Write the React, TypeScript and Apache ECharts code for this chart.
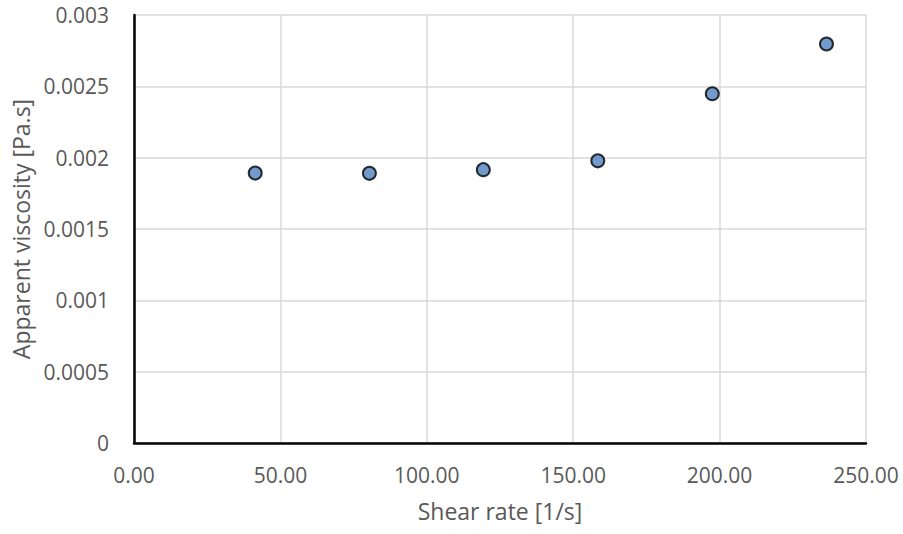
import React, { useEffect, useRef } from "react";
import * as echarts from "echarts";

const shearRate = [41.4, 80.4, 119.3, 158.4, 197.5, 236.5];
const viscosity = [0.001892, 0.00189, 0.001916, 0.001978, 0.002448, 0.002797];
const xTitle = "Shear rate [1/s]";
const yTitle = "Apparent viscosity [Pa.s]";

export default function App() {
  const ref = useRef<HTMLDivElement>(null);
  useEffect(() => {
    if (!ref.current) return;
    const chart = echarts.init(ref.current, null, { renderer: "svg" });
    const font = "Open Sans, Noto Sans, sans-serif";
    chart.setOption({
      animation: false,
      backgroundColor: "#ffffff",
      grid: { left: 134, right: 37, top: 15, bottom: 91, containLabel: false },
      xAxis: {
        type: "value",
        min: 0,
        max: 250,
        interval: 50,
        name: xTitle,
        nameLocation: "middle",
        nameGap: 56,
        nameTextStyle: { color: "#595959", fontSize: 23, fontFamily: font },
        axisLine: { show: true, onZero: false, lineStyle: { color: "#000", width: 2.5 } },
        axisTick: { show: false },
        axisLabel: {
          color: "#595959",
          fontSize: 21,
          fontFamily: font,
          margin: 21,
          formatter: (v: number) => v.toFixed(2),
        },
        splitLine: { show: true, lineStyle: { color: "#d9d9d9", width: 1.5 } },
      },
      yAxis: {
        type: "value",
        min: 0,
        max: 0.003,
        interval: 0.0005,
        name: yTitle,
        nameLocation: "middle",
        nameGap: 100,
        nameTextStyle: { color: "#595959", fontSize: 23, fontFamily: font },
        axisLine: { show: true, onZero: false, lineStyle: { color: "#000", width: 2.5 } },
        axisTick: { show: false },
        axisLabel: {
          color: "#595959",
          fontSize: 21,
          fontFamily: font,
          margin: 25,
          formatter: (v: number) => String(parseFloat(v.toFixed(4))),
        },
        splitLine: { show: true, lineStyle: { color: "#d9d9d9", width: 1.5 } },
      },
      series: [
        {
          type: "scatter",
          data: shearRate.map((x, i) => [x, viscosity[i]]),
          symbol: "circle",
          symbolSize: 13,
          itemStyle: { color: "#4f81bd", borderColor: "#000", borderWidth: 2 },
        },
      ],
    });
    return () => chart.dispose();
  }, []);
  return <div ref={ref} style={{ width: 903, height: 534, position: "absolute", left: 0, top: 0 }} />;
}
